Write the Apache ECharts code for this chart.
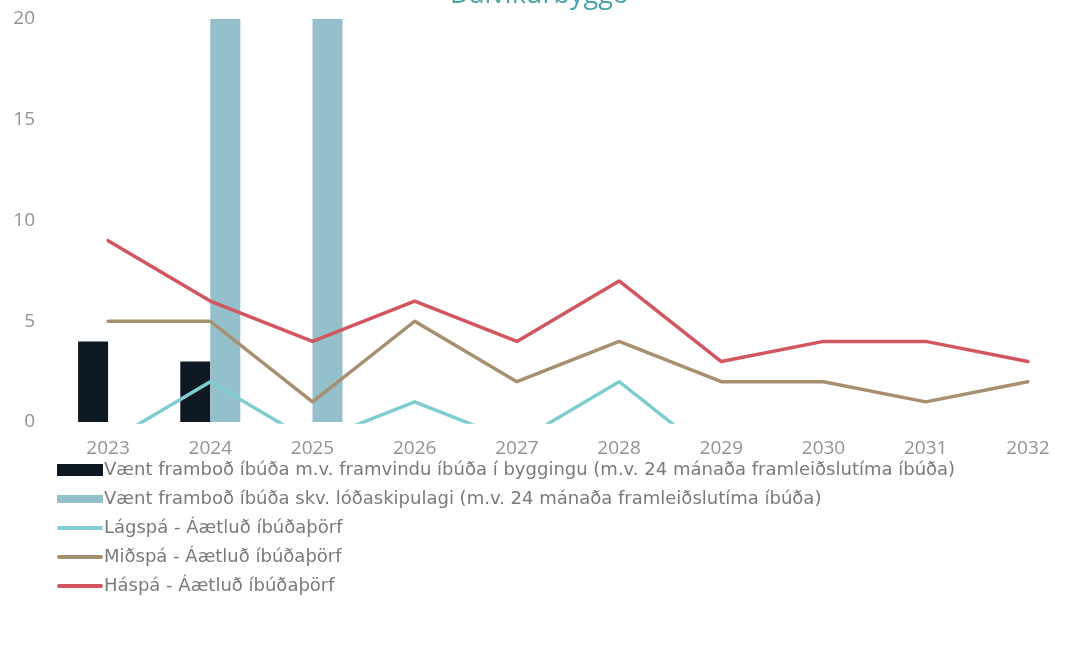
<!DOCTYPE html>
<html>
<head>
<meta charset="utf-8">
<script src="https://cdn.jsdelivr.net/npm/echarts@6/dist/echarts.min.js"></script>
<style>
html, body { margin: 0; padding: 0; background: #fff; }
#chart { width: 1079px; height: 654px; }
</style>
</head>
<body>
<div id="chart"></div>
<script>
// ár
const years = ['2023', '2024', '2025', '2026', '2027', '2028', '2029', '2030', '2031', '2032'];

// framboð (súlur)
const frambodBygging = [4, 3, 0, 0, 0, 0, 0, 0, 0, 0];
const frambodLodir = [0, 20, 20, 0, 0, 0, 0, 0, 0, 0];

// áætluð íbúðaþörf (línur) - neikvæð gildi klippast við 0
const lagspa = [-1, 2, -1, 1, -1, 2, -2, -2, -2, -2];
const midspa = [5, 5, 1, 5, 2, 4, 2, 2, 1, 2];
const haspa = [9, 6, 4, 6, 4, 7, 3, 4, 4, 3];

const yTicks = [0, 5, 10, 15, 20];

const names = [
	'Vænt framboð íbúða m.v. framvindu íbúða í byggingu (m.v. 24 mánaða framleiðslutíma íbúða)',
	'Vænt framboð íbúða skv. lóðaskipulagi (m.v. 24 mánaða framleiðslutíma íbúða)',
	'Lágspá - Áætluð íbúðaþörf',
	'Miðspá - Áætluð íbúðaþörf',
	'Háspá - Áætluð íbúðaþörf'
];

const font = '"Open Sans", "DejaVu Sans", sans-serif';

// legend tákn: box 46x12, M punktar halda stærðinni
const iconBlack = 'path://M0,0 M0,0 L46,0 L46,12 L0,12 Z';
const iconTeal = 'path://M0,0 M0,2 L46,2 L46,10 L0,10 Z M46,12';
const iconLine = 'path://M0,0 M2,4 L44,4 A2,2 0 0 1 44,8 L2,8 A2,2 0 0 1 2,4 Z M46,12';

let myChart = echarts.init(document.getElementById('chart'));

function lineSeries(name, data, color) {
	return {
		name: name,
		type: 'line',
		data: data,
		symbol: 'none',
		clip: true,
		lineStyle: { color: color, width: 3.5, cap: 'round', join: 'round' },
		itemStyle: { color: color },
		z: 3
	};
}

let option = {
	animation: false,
	title: {
		text: 'Dalvíkurbyggð',
		left: 'center',
		top: -23,
		textStyle: { color: '#4aa3a6', fontSize: 27, fontWeight: 'normal', fontFamily: font }
	},
	grid: {
		left: 57,
		right: -18,
		top: 19,
		bottom: 232
	},
	legend: {
		orient: 'vertical',
		left: 52,
		top: 456,
		itemWidth: 46,
		itemHeight: 12,
		itemGap: 11,
		data: [
			{ name: names[0], icon: iconBlack },
			{ name: names[1], icon: iconTeal },
			{ name: names[2], icon: iconLine },
			{ name: names[3], icon: iconLine },
			{ name: names[4], icon: iconLine }
		],
		textStyle: { color: '#7a7a7a', fontSize: 18, fontFamily: '"DejaVu Sans", sans-serif', padding: [0, 0, 0, -4] }
	},
	xAxis: {
		type: 'category',
		data: years,
		axisLine: { show: false },
		axisTick: { show: false },
		axisLabel: { color: '#939393', fontSize: 19, fontFamily: font, margin: 17 }
	},
	yAxis: {
		type: 'value',
		min: yTicks[0],
		max: yTicks[yTicks.length - 1],
		interval: 5,
		splitLine: { show: false },
		axisLine: { show: false },
		axisTick: { show: false },
		axisLabel: { color: '#939393', fontSize: 19, fontFamily: font, margin: 22 }
	},
	series: [
		{
			name: names[0],
			type: 'bar',
			data: frambodBygging,
			barWidth: 30,
			barGap: '0%',
			itemStyle: { color: '#0e1822' }
		},
		{
			name: names[1],
			type: 'bar',
			data: frambodLodir,
			barWidth: 30,
			itemStyle: { color: '#93c0cb' }
		},
		lineSeries(names[2], lagspa, '#80cdd0'),
		lineSeries(names[3], midspa, '#a6906f'),
		lineSeries(names[4], haspa, '#d2565f')
	]
};

myChart.setOption(option);
window.onresize = myChart.resize;
</script>
</body>
</html>
